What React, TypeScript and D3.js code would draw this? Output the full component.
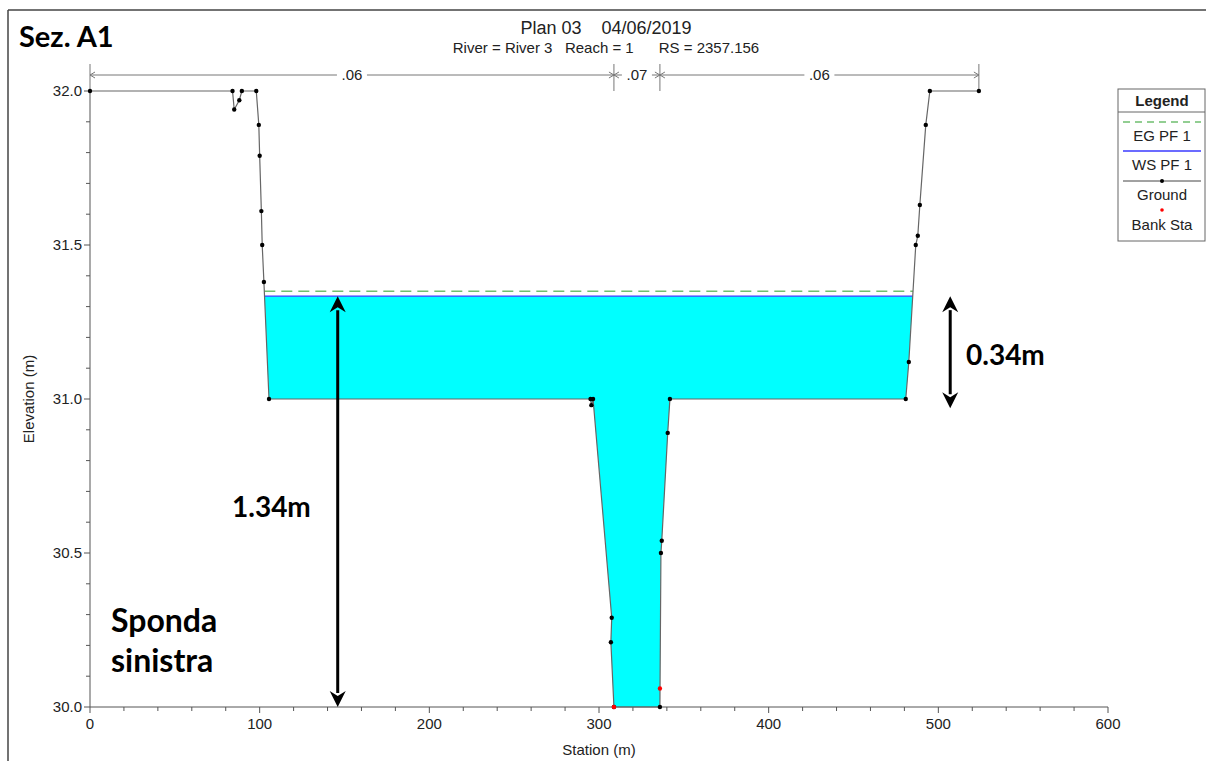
import React from "react";
import * as d3 from "d3";

// Ground profile read from the HEC-RAS cross section
const stations = [
  0, 84, 85, 88, 89.5, 98, 99.5, 100, 101, 101.5, 102.5, 105.5, 295, 295.5,
  296.5, 307.5, 307, 308.8, 335.9, 336.5, 337, 340.5, 341.8, 480.8, 482.6,
  486.7, 487.9, 489.1, 492.6, 495, 523.9,
];
const elevations = [
  32.0, 32.0, 31.94, 31.97, 32.0, 32.0, 31.89, 31.79, 31.61, 31.5, 31.38, 31.0,
  31.0, 30.98, 31.0, 30.29, 30.21, 30.0, 30.0, 30.5, 30.54, 30.89, 31.0, 31.0,
  31.12, 31.5, 31.53, 31.63, 31.89, 32.0, 32.0,
];
const bankStations = [308.8, 335.9];
const bankElevations = [30.0, 30.06];
const nLabels = [".06", ".07", ".06"];
const nBreaks = [0, 308.8, 335.9, 523.9];
const wsElevation = 31.334;
const egElevation = 31.35;
const xTicks = [0, 100, 200, 300, 400, 500, 600];
const yTicks = [30.0, 30.5, 31.0, 31.5, 32.0];

const font = "Arial, 'Liberation Sans', sans-serif";
const boldFont = "Lato, 'Open Sans', sans-serif";

const x = d3.scaleLinear().domain([0, 600]).range([90, 1108]);
const y = d3.scaleLinear().domain([30, 32]).range([707, 91]);

const pts: [number, number][] = stations.map((s, i) => [s, elevations[i]]);

// where the ground crosses a level, left bank and right bank
function crossings(level: number) {
  let iL = -1,
    iR = -1;
  for (let i = 0; i < pts.length - 1; i++) {
    const e0 = pts[i][1];
    const e1 = pts[i + 1][1];
    if (iL < 0 && e0 >= level && e1 < level) iL = i;
    if (e0 < level && e1 >= level) iR = i;
  }
  const interp = (i: number) => {
    const [s0, e0] = pts[i];
    const [s1, e1] = pts[i + 1];
    return s0 + ((level - e0) / (e1 - e0)) * (s1 - s0);
  };
  return { iL, iR, sL: interp(iL), sR: interp(iR) };
}

const ws = crossings(wsElevation);
const eg = crossings(egElevation);
const waterPoly: [number, number][] = [
  [ws.sL, wsElevation],
  ...pts.slice(ws.iL + 1, ws.iR + 1),
  [ws.sR, wsElevation],
];

const line = d3
  .line<[number, number]>()
  .x((d) => x(d[0]))
  .y((d) => y(d[1]));

const xMinor = d3.range(0, 601, 20);
const yMinor = d3.range(30, 32.001, 0.1);

function VArrow({ xs, e0, e1 }: { xs: number; e0: number; e1: number }) {
  const px = x(xs);
  const top = y(e1);
  const bot = y(e0);
  const h = 16,
    w = 8;
  return (
    <g fill="#000">
      <line x1={px} x2={px} y1={top + h - 2} y2={bot - h + 2} stroke="#000" strokeWidth={3} />
      <path d={`M${px},${top} L${px - w},${top + h} L${px},${top + h - 5} L${px + w},${top + h} Z`} />
      <path d={`M${px},${bot} L${px - w},${bot - h} L${px},${bot - h + 5} L${px + w},${bot - h} Z`} />
    </g>
  );
}

export default function App() {
  const nY = 75;
  return (
    <svg
      width={1206}
      height={761}
      style={{ position: "fixed", left: 0, top: 0, background: "#fff" }}
    >
      <rect width={1206} height={761} fill="#fff" />
      {/* frame */}
      <line x1={8} x2={8} y1={10} y2={761} stroke="#444" strokeWidth={1.5} />
      <line x1={8} x2={1206} y1={10} y2={10} stroke="#444" strokeWidth={1.5} />

      {/* titles */}
      <text x={606} y={34} textAnchor="middle" fontFamily={font} fontSize={18} fill="#222" style={{ whiteSpace: "pre" }}>
        {"Plan 03    04/06/2019"}
      </text>
      <text x={606} y={53} textAnchor="middle" fontFamily={font} fontSize={15} fill="#222" style={{ whiteSpace: "pre" }}>
        {"River = River 3   Reach = 1      RS = 2357.156"}
      </text>

      {/* Manning n bar */}
      {nBreaks.map((b) => (
        <line key={"nb" + b} x1={x(b)} x2={x(b)} y1={64} y2={91} stroke="#777" />
      ))}
      {nLabels.map((lab, i) => {
        const a = x(nBreaks[i]);
        const b = x(nBreaks[i + 1]);
        const m = (a + b) / 2;
        const gap = 15;
        return (
          <g key={"n" + i} stroke="#777" fill="none">
            <line x1={a} x2={m - gap} y1={nY} y2={nY} />
            <line x1={m + gap} x2={b} y1={nY} y2={nY} />
            <path d={`M${a + 5},${nY - 3} L${a},${nY} L${a + 5},${nY + 3}`} />
            <path d={`M${b - 5},${nY - 3} L${b},${nY} L${b - 5},${nY + 3}`} />
            <text x={m} y={nY + 5} textAnchor="middle" fontFamily={font} fontSize={15} fill="#222" stroke="none">
              {lab}
            </text>
          </g>
        );
      })}

      {/* water */}
      <path d={line(waterPoly)! + "Z"} fill="#00ffff" />
      <line x1={x(eg.sL)} x2={x(eg.sR)} y1={y(egElevation)} y2={y(egElevation)} stroke="#6fbf6f" strokeWidth={1.5} strokeDasharray="11,6" />
      <line x1={x(ws.sL)} x2={x(ws.sR)} y1={y(wsElevation)} y2={y(wsElevation)} stroke="#3a3aff" strokeWidth={1.2} />

      {/* axes */}
      <g stroke="#555" fontFamily={font} fontSize={15} fill="#222">
        <line x1={x(0)} x2={x(600)} y1={y(30)} y2={y(30)} />
        <line x1={x(0)} x2={x(0)} y1={y(30)} y2={y(32)} />
        {xMinor.map((t) => (
          <line key={"xm" + t} x1={x(t)} x2={x(t)} y1={y(30)} y2={y(30) + (t % 100 === 0 ? 6 : 4)} />
        ))}
        {yMinor.map((t) => (
          <line key={"ym" + t} x1={x(0) - (Math.abs(t * 2 - Math.round(t * 2)) < 1e-6 ? 6 : 4)} x2={x(0)} y1={y(t)} y2={y(t)} />
        ))}
        {xTicks.map((t) => (
          <text key={"xt" + t} x={x(t)} y={y(30) + 22} textAnchor="middle" stroke="none">
            {t}
          </text>
        ))}
        {yTicks.map((t) => (
          <text key={"yt" + t} x={x(0) - 8} y={y(t) + 5} textAnchor="end" stroke="none">
            {t.toFixed(1)}
          </text>
        ))}
        <text x={599} y={755} textAnchor="middle" stroke="none">
          Station (m)
        </text>
        <text transform={`translate(34,${y(31)}) rotate(-90)`} textAnchor="middle" stroke="none">
          Elevation (m)
        </text>
      </g>

      {/* ground */}
      <path d={line(pts)!} fill="none" stroke="#666" strokeWidth={1.2} />
      {pts.map((p, i) => (
        <circle key={"g" + i} cx={x(p[0])} cy={y(p[1])} r={2.2} fill="#000" />
      ))}
      {bankStations.map((s, i) => (
        <circle key={"b" + i} cx={x(s)} cy={y(bankElevations[i])} r={2.2} fill="#ff0000" />
      ))}

      {/* annotations */}
      <VArrow xs={146} e0={30.0} e1={wsElevation} />
      <VArrow xs={507} e0={30.97} e1={wsElevation} />
      <g fontFamily={boldFont} fontWeight="bold" fill="#000">
        <text x={19} y={47} fontSize={29}>Sez. A1</text>
        <text x={232} y={517} fontSize={28}>1.34m</text>
        <text x={966} y={365} fontSize={28}>0.34m</text>
        <text x={111} y={632} fontSize={32}>Sponda</text>
        <text x={111} y={672} fontSize={32}>sinistra</text>
      </g>

      {/* legend */}
      <g fontFamily={font} fontSize={15} fill="#222">
        <rect x={1118} y={89} width={87} height={152} fill="#fff" stroke="#666" />
        <line x1={1118} x2={1205} y1={112} y2={112} stroke="#666" />
        <text x={1162} y={106} textAnchor="middle" fontWeight="bold">Legend</text>
        <line x1={1123} x2={1201} y1={122} y2={122} stroke="#6fbf6f" strokeWidth={1.5} strokeDasharray="7,5" />
        <text x={1162} y={141} textAnchor="middle">EG PF 1</text>
        <line x1={1123} x2={1201} y1={151} y2={151} stroke="#3a3aff" strokeWidth={1.5} />
        <text x={1162} y={170} textAnchor="middle">WS PF 1</text>
        <line x1={1123} x2={1201} y1={181} y2={181} stroke="#444" />
        <circle cx={1162} cy={181} r={2} fill="#000" />
        <text x={1162} y={200} textAnchor="middle">Ground</text>
        <circle cx={1162} cy={210} r={1.8} fill="#ff0000" />
        <text x={1162} y={230} textAnchor="middle">Bank Sta</text>
      </g>
    </svg>
  );
}
